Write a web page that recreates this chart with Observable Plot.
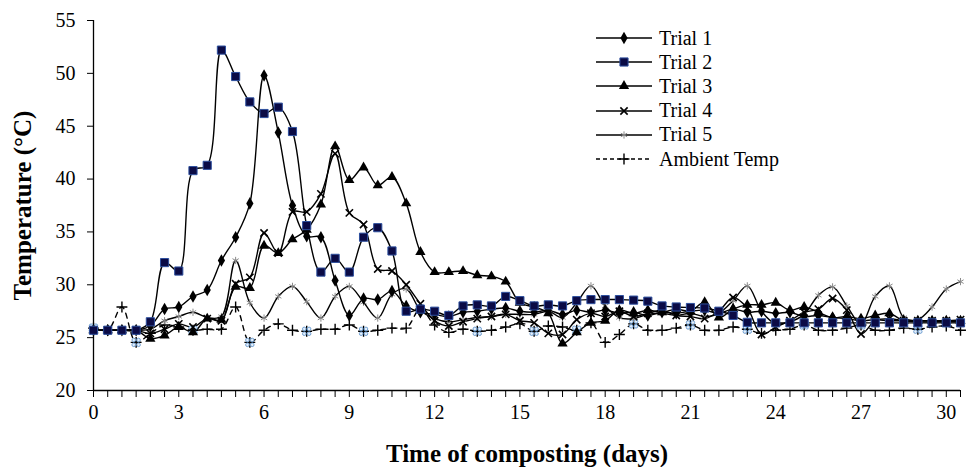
<!DOCTYPE html>
<html><head><meta charset="utf-8">
<script src="https://cdn.jsdelivr.net/npm/d3@7"></script>
<script src="https://cdn.jsdelivr.net/npm/@observablehq/plot@0.6"></script>
<style>
body{margin:0;background:#fff;}
#wrap{position:relative;width:969px;height:467px;font-family:"Liberation Serif","DejaVu Serif","Noto Serif",serif;color:#000;}
#wrap svg text{font-family:"Liberation Serif","DejaVu Serif","Noto Serif",serif;}
#legend{position:absolute;left:595px;top:26px;}
.item{display:flex;align-items:center;height:24.2px;font-size:20px;white-space:nowrap;}
.item svg{margin-right:6px;}
</style></head><body><div id="wrap"><div id="chart"></div><div id="legend"></div></div>
<script>
const days = [0,0.5,1,1.5,2,2.5,3,3.5,4,4.5,5,5.5,6,6.5,7,7.5,8,8.5,9,9.5,10,10.5,11,11.5,12,12.5,13,13.5,14,14.5,15,15.5,16,16.5,17,17.5,18,18.5,19,19.5,20,20.5,21,21.5,22,22.5,23,23.5,24,24.5,25,25.5,26,26.5,27,27.5,28,28.5,29,29.5,30,30.5];
const trial1 = [25.7,25.7,25.7,25.7,26.1,27.7,27.9,28.9,29.5,32.3,
  34.5,37.7,49.8,44.4,37.5,34.6,34.5,30.4,27.1,28.7,
  28.6,29.4,28.0,27.4,27.2,27.0,27.4,27.5,27.7,27.8,
  27.5,27.4,27.6,27.2,27.6,27.4,27.6,27.3,27.4,27.1,
  27.4,27.3,27.5,27.6,27.3,27.7,27.4,27.5,27.3,27.4,
  27.0,27.1,26.9,26.8,26.6,26.7,26.6,26.6,26.5,26.5,
  26.5,26.5];
const trial2 = [25.7,25.7,25.7,25.7,26.5,32.1,31.3,40.8,41.3,52.2,
  49.7,47.3,46.2,46.8,44.5,35.6,31.2,32.5,31.2,34.5,
  35.4,33.2,27.5,27.7,27.5,27.1,28.0,28.1,28.0,28.9,
  28.5,28.0,28.1,28.0,28.5,28.6,28.6,28.6,28.55,28.45,
  28.0,27.9,27.85,27.8,27.5,27.1,26.45,26.4,26.4,26.4,
  26.4,26.4,26.4,26.4,26.4,26.4,26.4,26.4,26.4,26.4,
  26.4,26.4];
const trial3 = [25.7,25.7,25.7,25.7,24.9,25.2,26.0,25.5,26.8,26.7,
  29.8,29.7,33.7,33.0,34.3,35.2,37.6,43.1,39.9,41.1,
  39.4,40.2,37.7,33.1,31.2,31.2,31.3,30.9,30.8,30.3,
  28.3,27.9,27.3,24.45,25.5,26.4,26.6,27.6,27.3,27.6,
  27.4,27.7,27.5,28.35,26.9,27.7,28.1,28.1,28.3,27.6,
  27.9,27.4,26.9,27.0,26.8,27.1,27.3,26.6,26.6,26.6,
  26.6,26.6];
const trial4 = [25.7,25.7,25.7,25.7,25.4,25.8,26.3,26.0,26.8,26.6,
  30.1,30.7,34.9,33.0,36.9,36.9,38.6,42.4,36.8,35.7,
  31.5,31.3,30.0,28.2,26.6,26.1,26.5,26.8,27.0,27.2,
  26.6,26.4,25.4,25.3,26.7,27.3,27.0,27.5,27.0,27.3,
  27.6,27.1,27.0,26.8,27.5,28.8,27.8,25.3,26.0,26.6,
  27.4,27.7,28.7,27.6,25.35,26.6,26.8,26.6,26.6,26.6,
  26.6,26.7];
const trial5 = [25.7,25.7,25.7,25.7,25.8,26.6,27.0,27.4,26.9,27.0,
  32.3,28.3,26.85,28.9,29.85,28.4,26.85,28.9,29.85,28.35,
  26.85,29.1,29.6,27.6,26.8,26.5,26.7,26.9,27.0,27.2,
  27.2,27.2,27.5,26.9,28.3,29.9,28.0,26.9,26.8,27.2,
  27.3,27.1,27.3,27.0,27.3,28.5,29.9,27.5,26.3,26.5,
  27.2,29.0,29.8,28.0,26.3,28.9,29.9,26.9,26.7,27.9,
  29.6,30.3];
const ambient = [25.9,25.7,27.9,24.55,25.4,26.2,26.0,25.7,25.8,25.8,
  27.9,24.55,25.7,26.3,25.7,25.6,25.8,25.8,26.2,25.6,
  25.7,25.9,25.9,27.7,26.2,25.5,25.8,25.6,25.7,26.0,
  26.3,25.6,26.1,26.0,25.7,26.4,24.55,25.3,26.3,25.7,
  25.7,25.9,26.2,25.7,25.7,26.0,25.8,25.4,25.7,25.8,
  26.2,25.7,25.7,25.9,26.2,25.7,25.7,25.9,25.8,26.0,
  26.1,25.7];
const markerDays = [0,1.5,3.5,5.5,7.5,9.5,11.5,13.5,15.5,17,19,21,23,25,27,29];
const seriesNames = ["Trial 1","Trial 2","Trial 3","Trial 4","Trial 5","Ambient Temp"];
const xTickLabels = [0,3,6,9,12,15,18,21,24,27,30];
const yTicks = [20,25,30,35,40,45,50,55];
const xTitle = "Time of composting (days)";
const yTitle = "Temperature (\u00B0C)";

const FONT = "'Liberation Serif','DejaVu Serif','Noto Serif',serif";
const styles = {
  "Trial 1": {symbol:"diamond", r:3.8, fill:"#000", stroke:"none", sw:0, dash:null},
  "Trial 2": {symbol:"square", r:4.6, fill:"#0b0b45", stroke:"#2d4f9e", sw:1, dash:null},
  "Trial 3": {symbol:"triangle", r:3.8, fill:"#000", stroke:"none", sw:0, dash:null},
  "Trial 4": {symbol:"times", r:3.4, fill:"none", stroke:"#000", sw:1.6, dash:null},
  "Trial 5": {symbol:"asterisk", r:3.4, fill:"none", stroke:"#8a8a8a", sw:1, dash:null},
  "Ambient Temp": {symbol:"plus", r:3.6, fill:"none", stroke:"#000", sw:1.4, dash:"5,5"}
};
const valuesByName = {"Trial 1":trial1,"Trial 2":trial2,"Trial 3":trial3,"Trial 4":trial4,"Trial 5":trial5,"Ambient Temp":ambient};
const rowsOf = name => days.map((d,i)=>({day:d, temp:valuesByName[name][i], name}));
const markerRows = days.map((d,i)=>({day:d, temp:ambient[i]})).filter(r=>markerDays.includes(r.day));

const drawOrder = ["Ambient Temp","Trial 5","Trial 4","Trial 3","Trial 1","Trial 2"];
const marks = [
  Plot.ruleY([20], {stroke:"#000", strokeWidth:1.3}),
  Plot.ruleX([0], {stroke:"#000", strokeWidth:1.3}),
  Plot.axisX(days, {tickSize:7, tickPadding:7, fontSize:20, label:null, fontFamily:FONT,
    tickFormat: d => xTickLabels.includes(d) ? String(d) : ""}),
  Plot.axisY(yTicks, {tickSize:6, tickPadding:12, fontSize:20, label:null, fontFamily:FONT}),
  Plot.text([xTitle], {frameAnchor:"bottom", dy:63, lineAnchor:"middle", textAnchor:"middle", fontSize:25, fontWeight:"bold", fill:"#000", fontFamily:FONT}),
  Plot.text([yTitle], {frameAnchor:"left", dx:-71, rotate:-90, textAnchor:"middle", lineAnchor:"middle", fontSize:25, fontWeight:"bold", fill:"#000", fontFamily:FONT})
];
for (const n of drawOrder) {
  const s = styles[n];
  marks.push(Plot.line(rowsOf(n), {x:"day", y:"temp", curve:"catmull-rom", stroke:"#000", strokeWidth:1.4, strokeDasharray:s.dash}));
}
for (const n of drawOrder) {
  const s = styles[n];
  marks.push(Plot.dot(rowsOf(n), {x:"day", y:"temp", symbol:s.symbol, r:s.r, fill:s.fill, stroke:s.stroke, strokeWidth:s.sw}));
  if (n === "Ambient Temp") {
    for (const [dx,dy] of [[-2.4,-2.4],[2.4,-2.4],[-2.4,2.4],[2.4,2.4]]) {
      marks.push(Plot.dot(markerRows, {x:"day", y:"temp", dx, dy, r:1.8, fill:"#e4eef9", stroke:"#6f9fd2", strokeWidth:1}));
    }
  }
}

const chart = Plot.plot({
  width:969, height:467,
  marginLeft:93, marginRight:9, marginTop:20, marginBottom:77,
  style:{fontFamily:FONT, fontSize:"20px", color:"#000", background:"#fff"},
  x:{domain:[0,30.5]},
  y:{domain:[20,55]},
  marks
});
d3.select(chart).selectAll("text").attr("font-family", FONT).style("font-family", FONT);
document.getElementById("chart").appendChild(chart);

// Legend
const legend = d3.select("#legend");
const symMap = {diamond:d3.symbolDiamond, square:d3.symbolSquare, triangle:d3.symbolTriangle, times:d3.symbolTimes, asterisk:d3.symbolAsterisk, plus:d3.symbolPlus};
for (const n of seriesNames) {
  const s = styles[n];
  const item = legend.append("div").attr("class","item");
  const svg = item.append("svg").attr("width",58).attr("height",20);
  svg.append("line").attr("x1",1).attr("x2",57).attr("y1",10).attr("y2",10)
    .attr("stroke","#000").attr("stroke-width",1.4).attr("stroke-dasharray", s.dash ? "4,3" : null);
  svg.append("path").attr("transform","translate(29,10)")
    .attr("d", d3.symbol(symMap[s.symbol], s.r*s.r*Math.PI)())
    .attr("fill", s.fill).attr("stroke", s.stroke === "none" ? null : s.stroke).attr("stroke-width", s.sw);
  item.append("span").text(n);
}
</script></body></html>
